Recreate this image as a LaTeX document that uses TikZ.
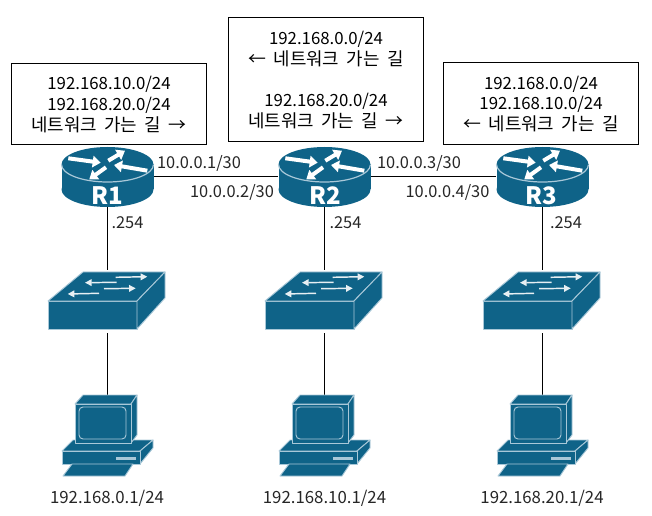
\documentclass[tikz,border=0pt]{standalone}
\usepackage{fontspec}
\setmainfont{Noto Sans CJK KR}
\usetikzlibrary{arrows.meta}
\definecolor{iconblue}{HTML}{0F6388}
\definecolor{iconedge}{HTML}{A9C8D8}
\newcommand{\kline}[1]{{\fontsize{13.4}{15.6}\selectfont\spaceskip=0.42em #1}}
\tikzset{
  iconface/.style={fill=iconblue, draw=iconedge, line width=0.7pt, line join=round},
  routerarrow/.style={white, line width=3pt, -{Triangle[width=8.5pt,length=6pt]}},
  switcharrow/.style={white!90!iconblue, line width=1.1pt, -{Triangle[width=5pt,length=5pt]}},
  iconlink/.style={black, line width=0.75pt},
  routernode/.style={minimum width=69pt, minimum height=45pt, inner sep=0pt},
  switchnode/.style={minimum width=88pt, minimum height=47.25pt, inner sep=0pt},
  pcnode/.style={minimum width=68pt, minimum height=60.75pt, inner sep=0pt},
  routebox/.style={draw=black, line width=0.75pt, minimum width=146.5pt, align=center, inner sep=0pt,
    font=\fontsize{12.6}{15.6}\selectfont},
  iflabel/.style={inner sep=0pt, text=black!85, font=\fontsize{12.3}{14}\selectfont},
  hostlabel/.style={inner sep=0pt, text=black!85, font=\fontsize{12.6}{14}\selectfont},
  routername/.style={inner sep=0pt, text=white, font=\fontsize{18}{18}\selectfont\bfseries},
  pics/router/.style={code={
    % Cuerpo
    \fill[iconblue] (0,12.5) ellipse [x radius=46, y radius=17.5];
    \fill[iconblue] (-46,-12.5) rectangle (46,12.5);
    \fill[iconblue] (0,-12.5) ellipse [x radius=46, y radius=17.5];
    \draw[iconedge, line width=0.9pt] (-46,-12.5) arc[start angle=180, end angle=0, x radius=46, y radius=17.5];
    % Flechas
    \draw[routerarrow] (-39.2,-18.7) -- (-6.8,-14.3);
    \draw[routerarrow] (0.8,-16.3) -- (17.5,-26.3);
    \draw[routerarrow] (39.8,-6.3) -- (6.5,-12);
    \draw[routerarrow] (-1.5,-9.7) -- (-18.2,2.3);
  }},
  pics/switch/.style={code={
    \draw[iconface] (-59.5,-0.5) rectangle (29.5,27.5);
    \draw[iconface] (-59.5,-0.5) -- (-24.5,-29.5) -- (57.5,-29.5) -- (29.5,-0.5) -- cycle;
    \draw[iconface] (29.5,-0.5) -- (57.5,-29.5) -- (57.5,-3.5) -- (29.5,27.5) -- cycle;
    % Flechas
    \draw[switcharrow] (8.2,-24.2) -- (39.8,-24.8);
    \draw[switcharrow] (9.2,-19.2) -- (-22.5,-18.8);
    \draw[switcharrow] (-3.5,-12.8) -- (28.2,-13.2);
    \draw[switcharrow] (-8.5,-8.2) -- (-39.8,-7.5);
  }},
  pics/pc/.style={code={
    % Base y teclado
    \draw[iconface] (-45.5,15.5) -- (-34.5,4.5) -- (45.5,4.5) -- (32.5,15.5) -- cycle;
    \draw[iconface] (32.5,15.5) -- (45.5,4.5) -- (45.5,12.5) -- (32.5,28.5) -- cycle;
    \draw[iconface] (-45.5,15.5) rectangle (32.5,28.5);
    \fill[iconedge] (8.5,21.5) rectangle (28.5,24.5);
    \draw[iconface] (-35.5,28.5) -- (25.5,28.5) -- (17.5,40.5) -- (-44.5,40.5) -- cycle;
    % Monitor
    \draw[iconface] (-32.5,-31.5) -- (-24.5,-40.5) -- (29.5,-40.5) -- (23.5,-31.5) -- cycle;
    \draw[iconface] (23.5,-31.5) -- (29.5,-40.5) -- (29.5,-0.5) -- (23.5,7.5) -- cycle;
    \draw[iconface] (-32.5,-31.5) rectangle (23.5,7.5);
    \draw[iconface, rounded corners=3pt] (-28.5,-28.5) rectangle (18.5,3.5);
  }}
}
\begin{document}
\begin{tikzpicture}[x=0.75pt, y=-0.75pt]
  \useasboundingbox (0,0) rectangle (652,516);

  % Cajas de rutas
  \node[routebox, minimum height=61pt] (box1) at (109,104.25) {192.168.10.0/24\\192.168.20.0/24\\\kline{네트워크 가는 길 →}};
  \node[routebox, minimum height=93pt] (box2) at (326,80) {192.168.0.0/24\\\kline{← 네트워크 가는 길}\\~\\192.168.20.0/24\\\kline{네트워크 가는 길 →}};
  \node[routebox, minimum height=61.5pt] (box3) at (541,104) {192.168.0.0/24\\192.168.10.0/24\\\kline{← 네트워크 가는 길}};

  % Nodos de la red
  \node[routernode] (R1) at (107.5,177) {};
  \node[routernode] (R2) at (324.5,177) {};
  \node[routernode] (R3) at (542.5,177) {};
  \node[switchnode] (SW1) at (107.5,301.5) {};
  \node[switchnode] (SW2) at (324.5,301.5) {};
  \node[switchnode] (SW3) at (542.5,301.5) {};
  \node[pcnode] (PC1) at (107.5,435.5) {};
  \node[pcnode] (PC2) at (324.5,435.5) {};
  \node[pcnode] (PC3) at (542.5,435.5) {};

  % Enlaces
  \draw[iconlink] (R1) -- (R2);
  \draw[iconlink] (R2) -- (R3);
  \foreach \col in {1,2,3} {
    \draw[iconlink] (R\col) -- (SW\col);
    \draw[iconlink] (SW\col) -- (PC\col);
  }

  % Iconos
  \foreach \col in {1,2,3} {
    \pic at (R\col) {router};
    \pic at (SW\col) {switch};
    \pic at (PC\col) {pc};
  }
  \node[routername] (R1name) at (107,196) {R1};
  \node[routername] (R2name) at (325,196) {R2};
  \node[routername] (R3name) at (541,196) {R3};

  % Direcciones
  \node[iflabel] (ifa) at (199,163) {10.0.0.1/30};
  \node[iflabel] (ifb) at (232,192) {10.0.0.2/30};
  \node[iflabel] (ifc) at (419,163) {10.0.0.3/30};
  \node[iflabel] (ifd) at (447.5,192) {10.0.0.4/30};
  \node[iflabel] (gw1) at (127.5,223) {.254};
  \node[iflabel] (gw2) at (345.5,223) {.254};
  \node[iflabel] (gw3) at (566,223) {.254};
  \node[hostlabel] (host1) at (107,498) {192.168.0.1/24};
  \node[hostlabel] (host2) at (324.5,498) {192.168.10.1/24};
  \node[hostlabel] (host3) at (542,498) {192.168.20.1/24};
\end{tikzpicture}
\end{document}
